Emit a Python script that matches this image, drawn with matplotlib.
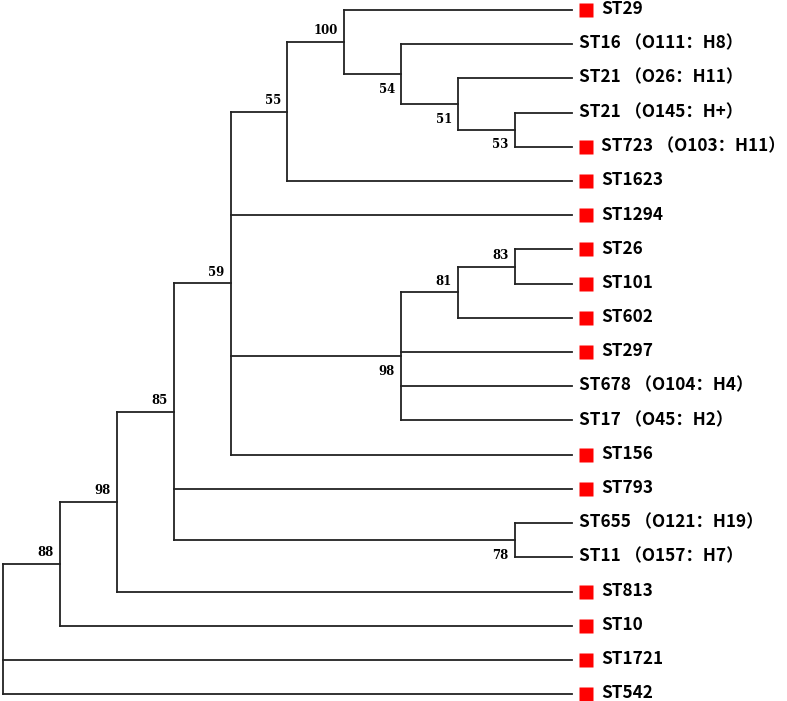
import matplotlib.pyplot as plt
from matplotlib.transforms import offset_copy

# topology: tips numbered top to bottom, internal labels are bootstrap values
newick = ("(((((((0,(1,(2,(3,4)53)51)54)100,5)55,6,"
          "(((7,8)83,9)81,10,11,12)98,13)59,14,(15,16)78)85,17)98,18)88,19,20);")

tip_names = ["ST29", "ST16 （O111：H8）", "ST21 （O26：H11）", "ST21 （O145：H+）",
             "ST723 （O103：H11）", "ST1623", "ST1294", "ST26", "ST101", "ST602",
             "ST297", "ST678 （O104：H4）", "ST17 （O45：H2）", "ST156", "ST793",
             "ST655 （O121：H19）", "ST11 （O157：H7）", "ST813", "ST10", "ST1721",
             "ST542"]
tip_marked = [1, 0, 0, 0, 1, 1, 1, 1, 1, 1, 1, 0, 0, 1, 1, 0, 0, 1, 1, 1, 1]


def parse(s):
    pos = 0

    def node():
        nonlocal pos
        kids = None
        if s[pos] == '(':
            pos += 1
            kids = [node()]
            while s[pos] == ',':
                pos += 1
                kids.append(node())
            pos += 1
        lab = ''
        while s[pos] not in ',);':
            lab += s[pos]
            pos += 1
        if kids is None:
            return {'tip': int(lab)}
        return {'kids': kids, 'boot': lab}
    return node()


def height(n):
    if 'kids' not in n:
        n['h'] = 0
        n['y'] = n['tip']
    else:
        for k in n['kids']:
            height(k)
        n['h'] = 1 + max(k['h'] for k in n['kids'])
        n['y'] = (n['kids'][0]['y'] + n['kids'][-1]['y']) / 2
    return n['h']


def place(n, top):
    n['x'] = top - n['h']
    for k in n.get('kids', []):
        place(k, top)


root = parse(newick)
depth = height(root)
place(root, depth)

fig = plt.figure(figsize=(7.87, 7.01), dpi=100)
ax = fig.add_axes([0, 0, 1, 1])
ax.axis('off')
ax.set_xlim(-0.053, 13.78)
ax.set_ylim(20.2, -0.292)

lc = '#222222'
lw = 1.3


def draw(n, first=True):
    if 'kids' not in n:
        return
    ax.plot([n['x'], n['x']], [n['kids'][0]['y'], n['kids'][-1]['y']],
            color=lc, lw=lw, solid_capstyle='projecting')
    for i, k in enumerate(n['kids']):
        ax.plot([n['x'], k['x']], [k['y'], k['y']], color=lc, lw=lw,
                solid_capstyle='projecting')
        draw(k, i == 0)
    if n is not root:
        dy = 8.0 if first else -11.0
        ax.annotate(n['boot'], (n['x'], n['y']), xytext=(-4.5, dy),
                    textcoords='offset points', ha='right', va='center',
                    fontsize=8.5, fontweight='bold', family='DejaVu Serif')


draw(root)

sq_tr = offset_copy(ax.transData, fig=fig, x=10, y=0, units='points')
for i, (name, mk) in enumerate(zip(tip_names, tip_marked)):
    if mk:
        ax.plot([depth], [i], marker='s', ms=10, color='#ff0000', mec='none',
                transform=sq_tr)
    ax.annotate(name, (depth, i), xytext=(20.8 if mk else 5, 0.5),
                textcoords='offset points', ha='left', va='center',
                fontsize=12.4, fontweight='bold',
                family=['Noto Sans CJK SC', 'DejaVu Sans'])

fig.savefig('out.png', dpi=100)
